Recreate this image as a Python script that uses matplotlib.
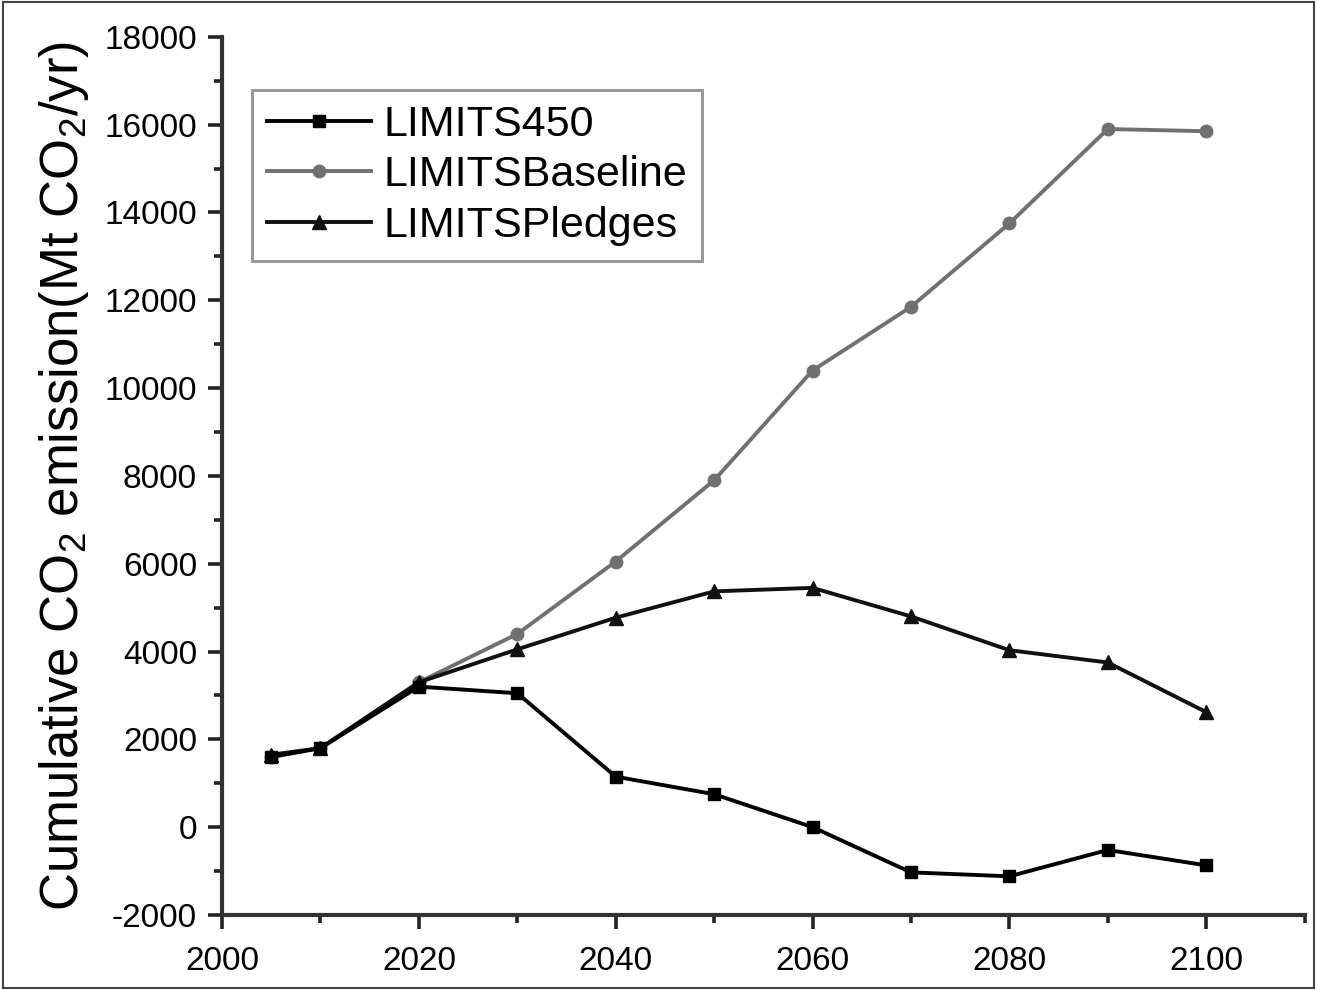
import matplotlib
matplotlib.use("Agg")
import matplotlib.pyplot as plt
from matplotlib.ticker import MultipleLocator
from matplotlib.patches import Rectangle

years = [2005, 2010, 2020, 2030, 2040, 2050, 2060, 2070, 2080, 2090, 2100]
limits450 = [1600, 1800, 3200, 3050, 1150, 750, 0, -1030, -1120, -520, -870]
baseline = [1600, 1800, 3300, 4400, 6050, 7900, 10400, 11850, 13750, 15900, 15850]
pledges = [1650, 1800, 3300, 4050, 4770, 5370, 5450, 4800, 4030, 3750, 2620]

plt.rcParams['font.family'] = ['Liberation Sans', 'DejaVu Sans']
plt.rcParams['mathtext.fontset'] = 'custom'
plt.rcParams['mathtext.rm'] = 'Liberation Sans'
plt.rcParams['mathtext.default'] = 'regular'
plt.rcParams['axes.unicode_minus'] = False

fig = plt.figure(figsize=(13.17, 9.9), dpi=100)
ax = fig.add_axes([0.1686, 0.0758, 0.822, 0.887])

lw = 2.8
ms = 9
ax.plot(years, limits450, color='black', marker='s', lw=lw, ms=ms, label='LIMITS450', zorder=3)
ax.plot(years, baseline, color='#707070', marker='o', lw=lw, ms=ms, label='LIMITSBaseline', zorder=2)
ax.plot(years, pledges, color='#111111', marker='^', lw=lw, ms=ms + 1, label='LIMITSPledges', zorder=2.5)

ax.set_xlim(2000, 2110)
ax.set_ylim(-2000, 18000)
ax.xaxis.set_major_locator(MultipleLocator(20))
ax.xaxis.set_minor_locator(MultipleLocator(10))
ax.yaxis.set_major_locator(MultipleLocator(2000))
ax.yaxis.set_minor_locator(MultipleLocator(1000))
ax.set_xticks([2000, 2020, 2040, 2060, 2080, 2100])

for s in ['top', 'right']:
    ax.spines[s].set_visible(False)
for s in ['left', 'bottom']:
    ax.spines[s].set_linewidth(3.0)
    ax.spines[s].set_color('#333333')

ax.tick_params(axis='both', which='major', direction='out', length=10, width=2.6,
               labelsize=24, colors='#222222', labelcolor='black')
ax.tick_params(axis='x', which='major', pad=12)
ax.tick_params(axis='y', which='major', pad=8)
ax.tick_params(axis='both', which='minor', direction='out', length=6, width=2.6, colors='#222222')

ax.set_ylabel('Cumulative CO$_2$ emission(Mt CO$_2$/yr)', fontsize=38, labelpad=10)

leg = ax.legend(loc='upper left', bbox_to_anchor=(0.028, 0.94), fontsize=31,
                frameon=True, fancybox=False, edgecolor='#808080', handlelength=2.4,
                labelspacing=0.25, borderpad=0.35, handletextpad=0.3, borderaxespad=0)
leg.get_frame().set_linewidth(2.2)

fig.patches.append(Rectangle((0.002, 0.002), 0.996, 0.996, transform=fig.transFigure,
                             fill=False, edgecolor='#444444', lw=1.5))

fig.savefig('out.png', dpi=100)
